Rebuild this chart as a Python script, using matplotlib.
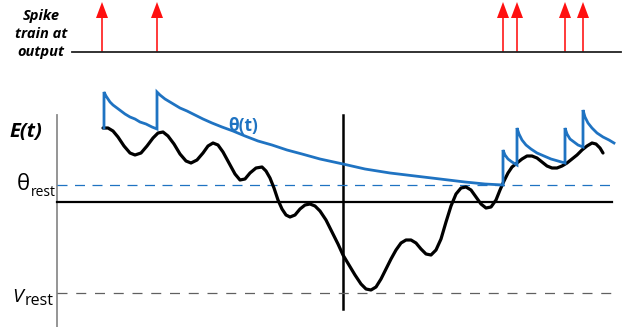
import matplotlib
matplotlib.use('Agg')
import matplotlib.pyplot as plt

# everything is in picture units: x to the right, y downwards (0..622, 0..327)
spike_times = [102, 157, 503, 517, 565, 583]

# membrane potential E(t)
e_x = [103, 108, 113, 118, 124, 130, 135, 141, 147, 153, 158, 163, 168, 174, 180, 186, 191,
       197, 203, 208, 213, 218, 223, 229, 235, 240, 245, 250, 256, 262, 266, 270, 274, 278,
       282, 286, 290, 295, 300, 305, 310, 315, 320, 326, 332, 338, 343, 349, 355, 361, 366,
       371, 376, 381, 386, 391, 396, 401, 406, 411, 416, 421, 426, 431, 436, 441, 446, 451,
       456, 461, 466, 471, 476, 481, 486, 491, 496, 500, 504, 508, 512, 517, 522, 527, 532,
       537, 542, 547, 552, 557, 562, 567, 572, 577, 582, 587, 592, 596, 600, 603]
e_y = [128, 128, 131, 137, 146, 153, 155, 153, 146, 138, 133, 132, 136, 144, 154, 161, 163,
       160, 153, 146, 143, 145, 152, 163, 174, 180, 179, 173, 168, 167, 171, 178, 188, 200,
       209, 215, 217, 215, 209, 205, 204, 206, 211, 220, 232, 244, 255, 265, 275, 284, 289,
       290, 287, 279, 269, 259, 250, 243, 240, 240, 243, 249, 254, 255, 250, 239, 222, 206,
       194, 188, 187, 190, 197, 204, 208, 207, 200, 190, 181, 173, 167, 163, 159, 156, 156,
       158, 162, 166, 168, 168, 166, 163, 159, 155, 150, 146, 143, 144, 148, 153]

# adaptive threshold theta(t), with a jump at every output spike
th_x = [104, 104, 106, 108, 110, 113, 117, 121, 125, 130, 135, 140, 146, 152, 157,
        157, 160, 165, 170, 175, 180, 187, 195, 203, 212, 222, 233, 245, 258, 272, 287,
        302, 320, 343, 365, 390, 415, 440, 465, 485, 503,
        503, 505, 508, 512, 517,
        517, 519, 522, 526, 531, 537, 544, 551, 558, 565,
        565, 567, 570, 574, 578, 583,
        583, 585, 588, 592, 597, 603, 609, 614]
th_y = [128, 92, 96, 99, 102, 105, 108, 111, 114, 117, 119, 122, 124, 127, 129,
        92, 95, 99, 102, 105, 108, 111, 115, 119, 123, 127, 131, 136, 141, 145, 150,
        154, 159, 164, 169, 173, 176, 179, 182, 184, 185,
        150, 155, 159, 162, 165,
        128, 134, 140, 145, 149, 153, 156, 159, 161, 163,
        128, 134, 139, 142, 145, 147,
        110, 117, 123, 128, 133, 137, 140, 143]

theta_rest = 185
v_rest = 293
baseline = 202
t_now = 343
spike_line = 52

blue = '#1f73c2'
red = '#ff1010'

plt.rcParams['font.family'] = ['Open Sans', 'Noto Sans', 'DejaVu Sans']

fig = plt.figure(figsize=(6.22, 3.27), dpi=100)
ax = fig.add_axes([0, 0, 1, 1])
ax.set_xlim(0, 622)
ax.set_ylim(327, 0)
ax.axis('off')

# spike train panel
ax.plot([72, 621], [spike_line, spike_line], color='#222222', lw=1.3)
for t in spike_times:
    ax.arrow(t, spike_line, 0, -50, width=1.6, head_width=12, head_length=16,
             length_includes_head=True, color=red, lw=0)
ax.text(41, 34, 'Spike\ntrain at\noutput', ha='center', va='center', fontsize=10.5,
        fontweight='bold', fontstyle='italic', linespacing=1.4)

# axes of the potential plot
ax.plot([57, 57], [115, 327], color='#8c8c8c', lw=1.3)
ax.plot([57, 612], [baseline, baseline], color='black', lw=1.6)
ax.plot([t_now, t_now], [115, 309], color='black', lw=1.8)
ax.plot([57, 612], [theta_rest, theta_rest], color=blue, lw=0.9, dashes=(8, 6))
ax.plot([57, 612], [v_rest, v_rest], color='#606060', lw=0.9, dashes=(8, 7))

ax.plot(e_x, e_y, color='black', lw=2.3, solid_capstyle='round', solid_joinstyle='round')
ax.plot(th_x, th_y, color=blue, lw=2.0, solid_joinstyle='miter')

ax.text(9, 132, 'E(t)', ha='left', va='center', fontsize=14.5,
        fontweight='bold', fontstyle='italic')
ax.text(228, 126, 'θ(t)', ha='left', va='center', fontsize=12.5,
        fontweight='bold', color=blue)
ax.text(17, 185, 'θ', ha='left', va='center', fontsize=16)
ax.text(31, 192, 'rest', ha='left', va='center', fontsize=10)
ax.text(12, 297, 'V', ha='left', va='center', fontsize=14, fontstyle='italic')
ax.text(25, 301, 'rest', ha='left', va='center', fontsize=11.5)

fig.savefig('out.png', dpi=100)
